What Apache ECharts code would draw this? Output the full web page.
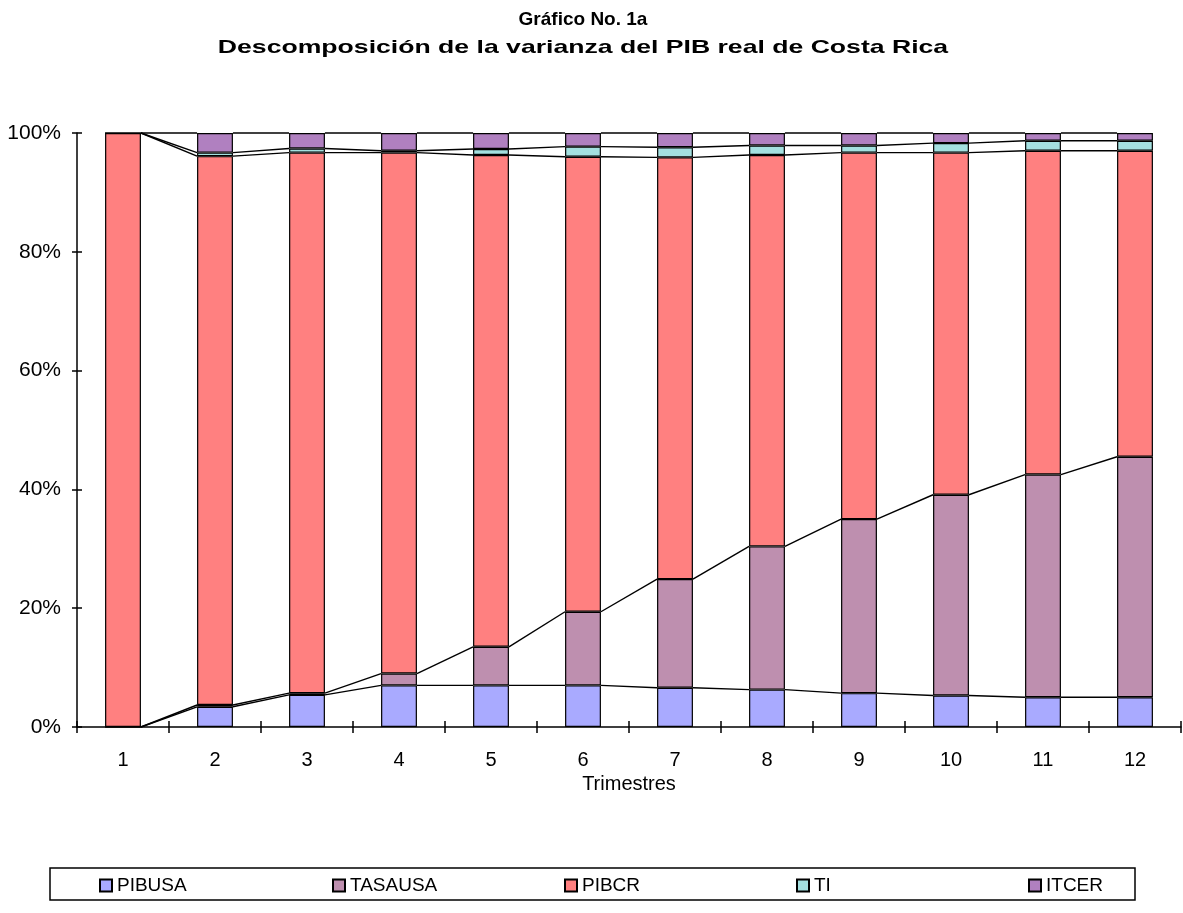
<!DOCTYPE html>
<html>
<head>
<meta charset="utf-8">
<script src="https://cdn.jsdelivr.net/npm/echarts@6/dist/echarts.min.js"></script>
<style>
  html, body { margin: 0; padding: 0; background: #fff; }
  #chart { width: 1183px; height: 913px; }
</style>
</head>
<body>
<div id="chart"></div>
<script>
const categories = ['1', '2', '3', '4', '5', '6', '7', '8', '9', '10', '11', '12'];
const seriesNames = ['PIBUSA', 'TASAUSA', 'PIBCR', 'TI', 'ITCER'];
const pibusa  = [0, 3.4, 5.4, 7.0, 7.0, 7.0, 6.6, 6.3, 5.7, 5.3, 5.0, 5.0];
const tasausa = [0, 0.3, 0.3, 2.0, 6.5, 12.4, 18.3, 24.1, 29.3, 33.8, 37.5, 40.5];
const pibcr   = [100, 92.4, 91.0, 87.7, 82.8, 76.6, 71.0, 65.9, 61.7, 57.6, 54.5, 51.5];
const ti      = [0, 0.6, 0.7, 0.3, 1.0, 1.7, 1.7, 1.6, 1.2, 1.6, 1.7, 1.7];
const itcer   = [0, 3.3, 2.6, 3.0, 2.7, 2.3, 2.4, 2.1, 2.1, 1.7, 1.3, 1.3];
const yTicks = [0, 20, 40, 60, 80, 100];

const colors = ['#A9AAFF', '#BE8FAF', '#FF8080', '#A4E0E0', '#B080C0'];
const values = [pibusa, tasausa, pibcr, ti, itcer];
const legendLefts = [99, 332, 564, 796, 1028];
const BAR_FRAC = 0.39;
const FONT = '"Liberation Sans", Arial, sans-serif';

// cumulative tops for the series lines
const cum = [];
values.forEach((arr, s) => {
  cum.push(arr.map((v, i) => (s === 0 ? 0 : cum[s - 1][i]) + v));
});

const barSeries = values.map((arr, s) => ({
  name: seriesNames[s],
  type: 'bar',
  stack: 'total',
  barWidth: (BAR_FRAC * 100) + '%',
  data: arr,
  itemStyle: { color: colors[s], borderColor: '#000', borderWidth: 1.2 },
  emphasis: { disabled: true },
  animation: false,
  z: 2
}));

const lineSeries = cum.map((c, s) => {
  const segs = [];
  for (let i = 0; i < c.length - 1; i++) segs.push([i, c[i], c[i + 1]]);
  return {
    type: 'custom',
    name: 'line_' + seriesNames[s],
    data: segs,
    silent: true,
    animation: false,
    z: 5,
    renderItem: function (params, api) {
      const i = api.value(0);
      const p0 = api.coord([i, api.value(1)]);
      const p1 = api.coord([i + 1, api.value(2)]);
      const bw = api.size([1, 0])[0] * BAR_FRAC;
      return {
        type: 'line',
        shape: { x1: p0[0] + bw / 2, y1: p0[1], x2: p1[0] - bw / 2, y2: p1[1] },
        style: { stroke: '#000', lineWidth: 1.4 }
      };
    }
  };
});

const legends = seriesNames.map((n, s) => ({
  data: [n],
  left: legendLefts[s],
  top: 876,
  padding: 0,
  itemWidth: 12,
  itemHeight: 12,
  itemGap: 0,
  icon: 'rect',
  selectedMode: false,
  textStyle: { fontFamily: FONT, fontSize: 19, color: '#000' }
}));

const chart = echarts.init(document.getElementById('chart'), null, { renderer: 'canvas' });
chart.setOption({
  backgroundColor: '#fff',
  animation: false,
  textStyle: { fontFamily: FONT },
  grid: { left: 77, right: 2, top: 133, bottom: 186, containLabel: false },
  graphic: [
    { type: 'text', x: 583, y: 20, style: { text: 'Gráfico No. 1a', font: 'bold 19px ' + FONT, fill: '#000', textAlign: 'center', textVerticalAlign: 'middle' } },
    { type: 'text', x: 583, y: 48, scaleX: 1.4, style: { text: 'Descomposición de la varianza del PIB real de Costa Rica', font: 'bold 19px ' + FONT, fill: '#000', textAlign: 'center', textVerticalAlign: 'middle' } },
    { type: 'rect', shape: { x: 50, y: 868, width: 1085, height: 32 }, style: { fill: 'none', stroke: '#000', lineWidth: 1.5 }, z: 10 }
  ],
  legend: legends,
  xAxis: [
    {
      type: 'category',
      data: categories,
      boundaryGap: true,
      axisLine: { show: true, lineStyle: { color: '#000', width: 1.5 } },
      axisTick: { show: true, inside: false, length: 6, lineStyle: { color: '#000', width: 1.5 } },
      axisLabel: { color: '#000', fontSize: 20, margin: 23, fontFamily: FONT },
      name: 'Trimestres',
      nameLocation: 'middle',
      nameGap: 45,
      nameTextStyle: { color: '#000', fontSize: 20, fontFamily: FONT },
      splitLine: { show: false }
    },
    {
      type: 'category',
      data: categories,
      position: 'bottom',
      boundaryGap: true,
      axisLine: { show: false },
      axisTick: { show: true, inside: true, length: 6, lineStyle: { color: '#000', width: 1.5 } },
      axisLabel: { show: false },
      splitLine: { show: false }
    }
  ],
  yAxis: [
    {
      type: 'value',
      min: yTicks[0],
      max: yTicks[yTicks.length - 1],
      interval: yTicks[1] - yTicks[0],
      axisLine: { show: true, lineStyle: { color: '#000', width: 1.5 } },
      axisTick: { show: true, inside: false, length: 5, lineStyle: { color: '#000', width: 1.5 } },
      axisLabel: { color: '#000', fontSize: 21, margin: 16, formatter: '{value}%', fontFamily: FONT },
      splitLine: { show: false }
    },
    {
      type: 'value',
      min: yTicks[0],
      max: yTicks[yTicks.length - 1],
      interval: yTicks[1] - yTicks[0],
      position: 'left',
      axisLine: { show: false },
      axisTick: { show: true, inside: true, length: 5, lineStyle: { color: '#000', width: 1.5 } },
      axisLabel: { show: false },
      splitLine: { show: false }
    }
  ],
  series: barSeries.concat(lineSeries)
});
</script>
</body>
</html>
